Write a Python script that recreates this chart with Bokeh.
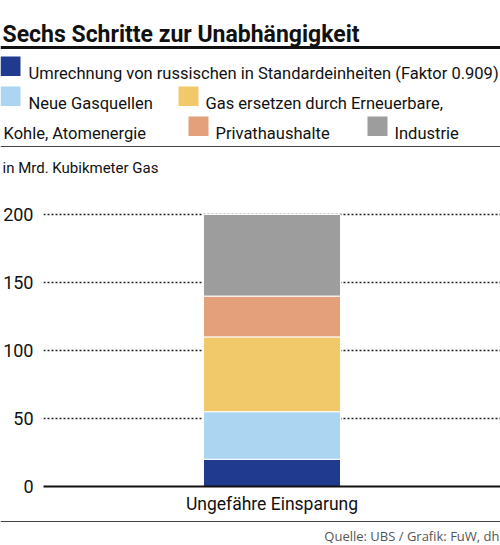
from bokeh.plotting import figure
from bokeh.models import Range1d, FactorRange, FixedTicker, ColumnDataSource
from bokeh.core.properties import value
from bokeh.embed import file_html
from bokeh.resources import INLINE

# ---------------- data ----------------
categories = ["Ungefähre Einsparung"]
series = ["Umrechnung", "Neue Gasquellen", "Gas ersetzen", "Privathaushalte", "Industrie"]
values_umrechnung = [20]
values_gasquellen = [35]
values_ersetzen = [55]
values_privat = [30]
values_industrie = [60]
colors = ["#1f3a8e", "#acd5f1", "#f2c96a", "#e3a07a", "#9d9d9d"]
y_ticks = [0, 50, 100, 150, 200]

title_text = "Sechs Schritte zur Unabhängigkeit"
legend_labels = [
    "Umrechnung von russischen in Standardeinheiten (Faktor 0.909)",
    "Neue Gasquellen",
    "Gas ersetzen durch Erneuerbare,",
    "Kohle, Atomenergie",
    "Privathaushalte",
    "Industrie",
]
unit_text = "in Mrd. Kubikmeter Gas"
source_text = "Quelle: UBS / Grafik: FuW, dh"

FONT = "Roboto"
W = 500

# ---------------- header ----------------
hdr = figure(width=W, height=190, x_range=Range1d(0, 500), y_range=Range1d(190, 0),
             toolbar_location=None, output_backend="svg", min_border=0,
             x_axis_location=None, y_axis_location=None, outline_line_color=None)
hdr.grid.visible = False

hdr.text(x=[2], y=[34], text=[title_text], text_font=value(FONT), text_font_style="bold",
         text_font_size="23px", text_baseline="alphabetic", text_color="#111111")
hdr.segment(x0=[0], x1=[500], y0=[47], y1=[47], line_color="#111111", line_width=3)

# legend swatches
sw_left = [0, 0, 178, 188, 367]
sw_top = [56, 86, 86, 116, 116]
hdr.quad(left=sw_left, right=[l + 20 for l in sw_left], top=sw_top,
         bottom=[t + 19.5 for t in sw_top], fill_color=colors, line_color=None)
hdr.text(x=[28, 28, 205, 3, 215, 394], y=[73, 103, 103, 133, 133, 133],
         text=legend_labels, text_font=value(FONT), text_font_size="16.5px",
         text_baseline="alphabetic", text_color="#111111")
hdr.segment(x0=[0], x1=[500], y0=[146], y1=[146], line_color="#444444", line_width=1)
hdr.text(x=[2], y=[167], text=[unit_text], text_font=value(FONT), text_font_size="15px",
         text_baseline="alphabetic", text_color="#111111")

# ---------------- chart ----------------
src = ColumnDataSource(dict(cat=categories, s0=values_umrechnung, s1=values_gasquellen,
                            s2=values_ersetzen, s3=values_privat, s4=values_industrie))
ch = figure(width=W, height=330, x_range=FactorRange(*categories), y_range=Range1d(0, 206.6),
            toolbar_location=None, output_backend="svg", min_border_left=42,
            min_border_right=0, min_border_top=15, min_border_bottom=34,
            outline_line_color=None)
ch.vbar_stack(["s0", "s1", "s2", "s3", "s4"], x="cat", width=0.3, source=src,
              fill_color=colors, line_color="white", line_width=1)

ch.xgrid.visible = False
ch.ygrid.ticker = FixedTicker(ticks=y_ticks)
ch.ygrid.grid_line_color = "#222222"
ch.ygrid.grid_line_dash = "2 2"
ch.ygrid.grid_line_width = 1.4

ch.yaxis.ticker = FixedTicker(ticks=y_ticks)
ch.yaxis.axis_line_color = None
ch.yaxis.major_tick_line_color = None
ch.yaxis.minor_tick_line_color = None
ch.yaxis.major_tick_out = 0
ch.yaxis.major_tick_in = 0
ch.yaxis.major_label_standoff = 10
ch.yaxis.major_label_text_font = FONT
ch.yaxis.major_label_text_font_size = "18px"
ch.yaxis.major_label_text_color = "#111111"

ch.xaxis.axis_line_color = "#111111"
ch.xaxis.axis_line_width = 2
ch.xaxis.major_tick_line_color = None
ch.xaxis.major_tick_out = 0
ch.xaxis.major_tick_in = 0
ch.xaxis.major_label_standoff = 7
ch.xaxis.major_label_text_font = FONT
ch.xaxis.major_label_text_font_size = "17.5px"
ch.xaxis.major_label_text_color = "#111111"

# ---------------- footer ----------------
ftr = figure(width=W, height=25, x_range=Range1d(0, 500), y_range=Range1d(25, 0),
             toolbar_location=None, output_backend="svg", min_border=0,
             x_axis_location=None, y_axis_location=None, outline_line_color=None)
ftr.grid.visible = False
ftr.segment(x0=[0], x1=[500], y0=[1], y1=[1], line_color="#444444", line_width=1)
ftr.text(x=[499], y=[15], text=[source_text], text_font=value("Open Sans"),
         text_font_size="13px", text_align="right", text_baseline="alphabetic",
         text_color="#555555")

open("out.html", "w").write(file_html([hdr, ch, ftr], INLINE))
